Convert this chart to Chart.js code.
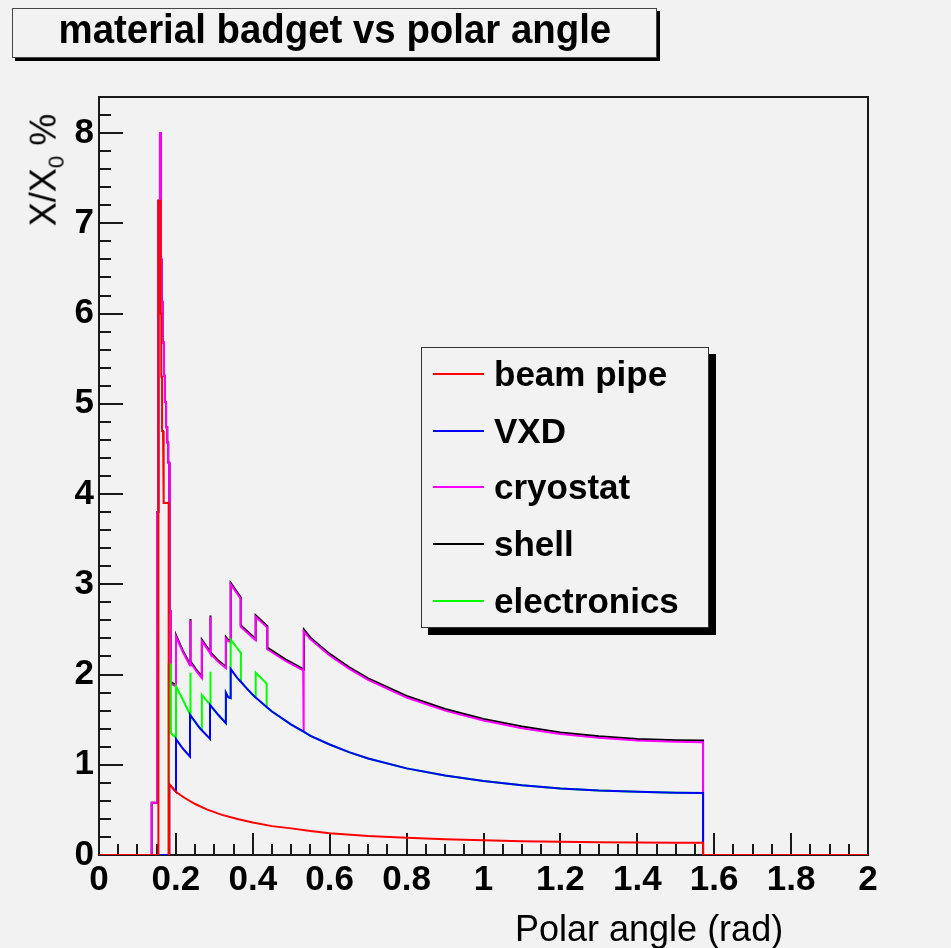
<!DOCTYPE html>
<html>
<head>
<meta charset="utf-8">
<script src="https://cdn.jsdelivr.net/npm/chart.js@4.4.1/dist/chart.umd.min.js"></script>
<style>
html,body{margin:0;padding:0;background:#f2f2f2;}
#wrap{position:relative;width:951px;height:948px;overflow:hidden;background:#f2f2f2;}
#c{position:absolute;left:0;top:0;}
#title{position:absolute;left:12px;top:8px;width:645px;height:50px;box-sizing:border-box;border:1px solid #444;background:#f2f2f2;box-shadow:3px 3px 0 #000;text-align:center;color:#000;white-space:nowrap;}
#title span{display:inline-block;font:bold 40px 'Liberation Sans',Arial,sans-serif;line-height:40px;transform:scaleX(0.96);}
#legend{position:absolute;left:421px;top:347px;width:288px;height:281px;box-sizing:border-box;border:1px solid #333;background:#f2f2f2;box-shadow:7px 7px 0 #000;}
.lrow{position:absolute;left:0;height:40px;width:280px;}
.lline{position:absolute;left:11px;top:19px;width:51px;height:2px;}
.ltext{position:absolute;left:72px;top:0;font:bold 35px 'Liberation Sans',Arial,sans-serif;line-height:40px;color:#000;white-space:nowrap;}
#xtitle{position:absolute;left:515px;top:909px;font:36px 'Liberation Sans',Arial,sans-serif;line-height:40px;color:#000;white-space:nowrap;}
#ytitle{position:absolute;left:50px;top:170px;transform:translate(-50%,-50%) rotate(-90deg);font:36px 'Liberation Sans',Arial,sans-serif;line-height:40px;color:#000;white-space:nowrap;}
#ytitle sub{font-size:0.62em;vertical-align:-0.35em;}
</style>
</head>
<body>
<div id="wrap">
<canvas id="c" width="951" height="948"></canvas>
<div id="title"><span>material badget vs polar angle</span></div>
<div id="legend"></div>
<div id="xtitle">Polar angle (rad)</div>
<div id="ytitle">X/X<sub>0</sub> %</div>
</div>
<script>
// ---- tick labels ----
const xTickLabels = ['0','0.2','0.4','0.6','0.8','1','1.2','1.4','1.6','1.8','2'];
const yTickLabels = ['0','1','2','3','4','5','6','7','8'];

// ---- series (legend order) ----
const seriesNames  = ['beam pipe','VXD','cryostat','shell','electronics'];
const seriesColors = ['#ff0000','#0000ff','#ff00ff','#000000','#00ff00'];

// beam pipe
const beamPipeX = [0,0.1545,0.1545,0.160,0.160,0.162,0.162,0.164,0.164,0.1665,0.1665,0.169,0.169,0.1812,0.1812,0.1828,0.1828,0.19,0.20,0.22,0.25,0.28,0.32,0.36,0.40,0.45,0.50,0.55,0.60,0.70,0.80,0.90,1.00,1.10,1.20,1.30,1.40,1.50,1.571,1.571,2.0];
const beamPipeY = [0,0,7.25,7.25,6.0,6.0,5.3,5.3,4.7,4.7,4.2,4.2,3.9,3.9,0,0,0.785,0.75,0.70,0.64,0.565,0.505,0.445,0.40,0.36,0.32,0.295,0.265,0.24,0.21,0.19,0.175,0.163,0.153,0.146,0.141,0.138,0.136,0.135,0,0];

// VXD
const vxdX = [0,0.1828,0.1828,0.19,0.2003,0.2003,0.218,0.2367,0.2367,0.262,0.2887,0.2887,0.31,0.330,0.330,0.336,0.3425,0.3425,0.36,0.369,0.38,0.40,0.4075,0.436,0.45,0.50,0.531,0.55,0.60,0.65,0.70,0.80,0.90,1.00,1.10,1.20,1.30,1.40,1.50,1.571,1.571,2.0];
const vxdY = [0,0,0.785,0.75,0.70,1.284,1.18,1.091,1.554,1.407,1.287,1.665,1.554,1.461,1.80,1.75,1.74,2.06,1.96,1.92,1.865,1.775,1.745,1.64,1.59,1.445,1.37,1.32,1.225,1.14,1.07,0.96,0.88,0.82,0.772,0.738,0.714,0.70,0.69,0.688,0,0];

// electronics
const electronicsX = [0,0.1812,0.1812,0.187,0.187,0.2003,0.2003,0.218,0.2367,0.2367,0.2385,0.2385,0.262,0.2675,0.2675,0.2887,0.2887,0.2905,0.2905,0.31,0.330,0.330,0.336,0.3425,0.3425,0.369,0.369,0.38,0.40,0.4075,0.4075,0.436,0.436,0.45,0.50,0.531,0.55,0.60,0.65,0.70,0.80,0.90,1.00,1.10,1.20,1.30,1.40,1.50,1.571,1.571,2.0];
const electronicsY = [0,0,2.11,2.11,1.35,1.30,1.87,1.72,1.56,2.02,2.02,1.5435,1.407,1.382,1.776,1.665,2.03,2.03,1.656,1.554,1.461,1.80,1.75,1.74,2.386,2.24,1.92,1.865,1.775,1.745,2.02,1.90,1.64,1.59,1.445,1.37,1.32,1.225,1.14,1.07,0.96,0.88,0.82,0.772,0.738,0.714,0.70,0.69,0.688,0,0];

// cryostat
const cryostatX = [0,0.137,0.137,0.152,0.152,0.1545,0.1545,0.1585,0.1585,0.161,0.161,0.163,0.163,0.1655,0.1655,0.169,0.169,0.1715,0.1715,0.1745,0.1745,0.1775,0.1775,0.180,0.180,0.1825,0.1825,0.1845,0.1845,0.1865,0.1865,0.2003,0.2003,0.218,0.2367,0.2367,0.2385,0.2385,0.252,0.2675,0.2675,0.2887,0.2887,0.2905,0.2905,0.31,0.330,0.330,0.336,0.3425,0.3425,0.3685,0.3685,0.4075,0.4075,0.4378,0.4378,0.485,0.531,0.531,0.533,0.533,0.55,0.60,0.65,0.70,0.80,0.90,1.00,1.10,1.20,1.30,1.40,1.50,1.571,1.571,2.0];
const cryostatY = [0,0,0.58,0.58,3.8,3.8,7.25,7.25,8.0,8.0,6.6,6.6,6.13,6.13,5.68,5.68,5.31,5.31,5.02,5.02,4.74,4.74,4.57,4.57,4.35,4.35,3.4,3.4,2.7,2.7,1.9,1.87,2.42,2.25,2.10,2.60,2.60,2.13,2.045,1.96,2.37,2.24,2.64,2.64,2.23,2.14,2.07,2.40,2.37,2.36,3.00,2.84,2.53,2.38,2.64,2.52,2.28,2.15,2.045,1.37,1.37,2.48,2.39,2.21,2.065,1.94,1.745,1.60,1.49,1.405,1.34,1.298,1.268,1.254,1.25,0,0];

// shell
const shellX = [0,0.137,0.137,0.152,0.152,0.1545,0.1545,0.1585,0.1585,0.161,0.161,0.163,0.163,0.1655,0.1655,0.169,0.169,0.1715,0.1715,0.1745,0.1745,0.1775,0.1775,0.180,0.180,0.1825,0.1825,0.1845,0.1845,0.1865,0.1865,0.2003,0.2003,0.218,0.2367,0.2367,0.2385,0.2385,0.252,0.2675,0.2675,0.2887,0.2887,0.2905,0.2905,0.31,0.330,0.330,0.336,0.3425,0.3425,0.3685,0.3685,0.4075,0.4075,0.4378,0.4378,0.485,0.533,0.533,0.55,0.60,0.65,0.70,0.80,0.90,1.00,1.10,1.20,1.30,1.40,1.50,1.571,1.571,2.0];
const shellY = [0,0,0.58,0.58,3.8,3.8,7.25,7.25,8.0,8.0,6.6,6.6,6.13,6.13,5.68,5.68,5.31,5.31,5.02,5.02,4.74,4.74,4.57,4.57,4.35,4.35,3.4,3.4,2.7,2.7,1.915,1.885,2.435,2.265,2.115,2.615,2.615,2.145,2.06,1.975,2.385,2.255,2.655,2.655,2.245,2.155,2.085,2.415,2.385,2.375,3.015,2.855,2.545,2.395,2.655,2.535,2.298,2.168,2.058,2.498,2.408,2.228,2.083,1.958,1.763,1.618,1.508,1.423,1.358,1.316,1.286,1.272,1.268,0,0];

const seriesX = [beamPipeX, vxdX, cryostatX, shellX, electronicsX];
const seriesY = [beamPipeY, vxdY, cryostatY, shellY, electronicsY];
// drawing order: beam pipe on top, shell at the bottom
const drawOrder = [0, 1, 4, 2, 3];

const datasets = drawOrder.map(i => ({
  label: seriesNames[i],
  data: seriesX[i].map((x, k) => ({x: x, y: seriesY[i][k]})),
  borderColor: seriesColors[i],
  backgroundColor: seriesColors[i],
  borderWidth: 2,
  pointRadius: 0,
  tension: 0,
  fill: false,
  borderJoinStyle: 'miter'
}));

// legend (HTML)
const legend = document.getElementById('legend');
seriesNames.forEach((name, i) => {
  const row = document.createElement('div');
  row.className = 'lrow';
  row.style.top = (6 + i * 56.7) + 'px';
  const ln = document.createElement('div');
  ln.className = 'lline';
  ln.style.background = seriesColors[i];
  const tx = document.createElement('div');
  tx.className = 'ltext';
  tx.textContent = name;
  row.appendChild(ln); row.appendChild(tx);
  legend.appendChild(row);
});

const frameTicks = {
  id: 'frameTicks',
  beforeDatasetsDraw(chart) {
    const ctx = chart.ctx, a = chart.chartArea;
    const xs = chart.scales.x, ys = chart.scales.y;
    ctx.save();
    ctx.strokeStyle = '#1a1a1a';
    ctx.lineWidth = 2;
    ctx.strokeRect(a.left, a.top, a.right - a.left, a.bottom - a.top);
    ctx.lineWidth = 2;
    ctx.beginPath();
    for (let k = 0; k <= 40; k++) {
      const v = k * 0.05;
      const px = Math.round(xs.getPixelForValue(v));
      const len = (k % 4 === 0) ? 22 : 11;
      ctx.moveTo(px, a.bottom);
      ctx.lineTo(px, a.bottom - len);
    }
    for (let k = 0; k <= 41; k++) {
      const v = k * 0.2;
      const py = Math.round(ys.getPixelForValue(v));
      const len = (k % 5 === 0) ? 24 : 12;
      ctx.moveTo(a.left, py);
      ctx.lineTo(a.left + len, py);
    }
    ctx.stroke();
    ctx.restore();
  }
};

new Chart(document.getElementById('c'), {
  type: 'line',
  data: { datasets: datasets },
  options: {
    responsive: false,
    animation: false,
    events: [],
    layout: { padding: { top: 97, right: 83, left: 0, bottom: 0 } },
    plugins: { legend: { display: false }, tooltip: { enabled: false }, title: { display: false } },
    scales: {
      x: {
        type: 'linear', min: 0, max: 2,
        grid: { display: false, drawTicks: false },
        border: { display: false },
        ticks: {
          stepSize: 0.2, autoSkip: false, maxRotation: 0, includeBounds: false,
          padding: 4, color: '#000',
          font: { family: "'Liberation Sans', Arial, sans-serif", size: 35, weight: 'bold' },
          callback: (v, i) => xTickLabels[i]
        },
        afterFit: s => { s.height = 93; }
      },
      y: {
        type: 'linear', min: 0, max: 8.4,
        grid: { display: false, drawTicks: false },
        border: { display: false },
        ticks: {
          stepSize: 1, autoSkip: false, includeBounds: false,
          padding: 5, color: '#000',
          font: { family: "'Liberation Sans', Arial, sans-serif", size: 35, weight: 'bold' },
          callback: (v, i) => yTickLabels[i]
        },
        afterFit: s => { s.width = 99; }
      }
    }
  },
  plugins: [frameTicks]
});
</script>
</body>
</html>
